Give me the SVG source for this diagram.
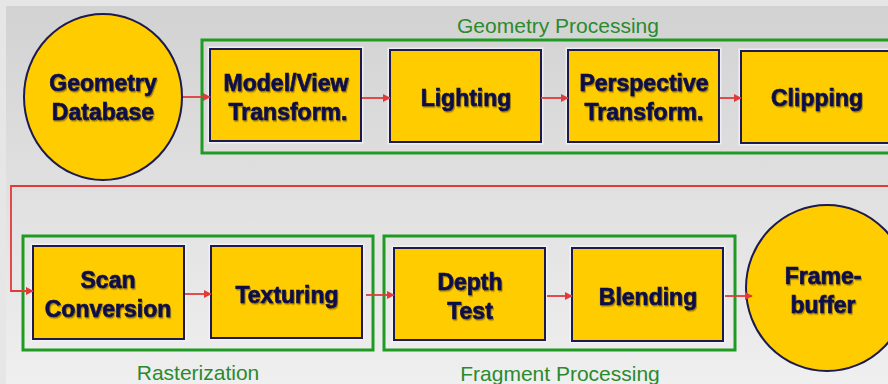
<svg xmlns="http://www.w3.org/2000/svg" width="888" height="384" viewBox="0 0 888 384">
<style>
.box{fill:#ffcc00;stroke:#1c1a4e;stroke-width:2}
.glow{fill:none;stroke:#f2f2fa;stroke-width:5;opacity:0.8}
.grp{fill:none;stroke:#1f9a22;stroke-width:3}
.t{font-family:"Liberation Sans",Arial,sans-serif;font-weight:bold;font-size:23px;fill:#10104a;stroke:#10104a;stroke-width:0.7;text-anchor:middle}
.lbl{font-family:"Liberation Sans",Arial,sans-serif;font-size:21px;fill:#2a8a2e;text-anchor:middle}
.c{fill:none;stroke:#e03a3a;stroke-width:1.8}
</style>
<defs>
<linearGradient id="bg" x1="0" y1="0" x2="0" y2="1">
<stop offset="0" stop-color="#d2d2d2"/>
<stop offset="1" stop-color="#efefef"/>
</linearGradient>
<marker id="ah" viewBox="0 0 10 10" refX="9" refY="5" markerWidth="8" markerHeight="8" orient="auto" markerUnits="userSpaceOnUse">
<path d="M0,0 L10,5 L0,10 z" fill="#e03a3a"/>
</marker>
<filter id="sh" x="-10%" y="-10%" width="120%" height="130%">
<feDropShadow dx="1" dy="1.5" stdDeviation="0.6" flood-color="#000" flood-opacity="0.35"/>
</filter>
</defs>
<rect x="0" y="0" width="888" height="384" fill="#e6e6e6"/>
<rect x="6" y="6" width="882" height="378" fill="url(#bg)"/>

<g id="geometry-processing-group">
<rect class="grp" x="202" y="40" width="700" height="113"/>
<text class="lbl" x="558" y="33">Geometry Processing</text>
</g>
<g id="rasterization-group">
<rect class="grp" x="23" y="236" width="350" height="114"/>
<text class="lbl" x="198" y="380">Rasterization</text>
</g>
<g id="fragment-processing-group">
<rect class="grp" x="384" y="236" width="351" height="114"/>
<text class="lbl" x="560" y="381">Fragment Processing</text>
</g>

<g id="geometry-database">
<ellipse class="box" cx="103" cy="97" rx="79" ry="83"/>
<text class="t" x="103" y="91" filter="url(#sh)">Geometry</text>
<text class="t" x="103" y="120" filter="url(#sh)">Database</text>
</g>
<g id="model-view">
<rect class="glow" x="210" y="49" width="151" height="92"/>
<rect class="box" x="210" y="49" width="151" height="92"/>
<text class="t" x="286" y="91" filter="url(#sh)">Model/View</text>
<text class="t" x="288" y="120" filter="url(#sh)">Transform.</text>
</g>
<g id="lighting">
<rect class="glow" x="390" y="50" width="151" height="92"/>
<rect class="box" x="390" y="50" width="151" height="92"/>
<text class="t" x="466" y="106" filter="url(#sh)">Lighting</text>
</g>
<g id="perspective">
<rect class="glow" x="568" y="50" width="151" height="92"/>
<rect class="box" x="568" y="50" width="151" height="92"/>
<text class="t" x="644" y="91" filter="url(#sh)">Perspective</text>
<text class="t" x="644" y="120" filter="url(#sh)">Transform.</text>
</g>
<g id="clipping">
<rect class="glow" x="741" y="51" width="160" height="92"/>
<rect class="box" x="741" y="51" width="160" height="92"/>
<text class="t" x="817" y="106" filter="url(#sh)">Clipping</text>
</g>
<g id="scan-conversion">
<rect class="glow" x="33" y="246" width="151" height="93"/>
<rect class="box" x="33" y="246" width="151" height="93"/>
<text class="t" x="108" y="288" filter="url(#sh)">Scan</text>
<text class="t" x="108" y="317" filter="url(#sh)">Conversion</text>
</g>
<g id="texturing">
<rect class="glow" x="211" y="246" width="151" height="92"/>
<rect class="box" x="211" y="246" width="151" height="92"/>
<text class="t" x="287" y="303" filter="url(#sh)">Texturing</text>
</g>
<g id="depth-test">
<rect class="glow" x="394" y="248" width="151" height="92"/>
<rect class="box" x="394" y="248" width="151" height="92"/>
<text class="t" x="470" y="290" filter="url(#sh)">Depth</text>
<text class="t" x="470" y="319" filter="url(#sh)">Test</text>
</g>
<g id="blending">
<rect class="glow" x="572" y="248" width="151" height="93"/>
<rect class="box" x="572" y="248" width="151" height="93"/>
<text class="t" x="648" y="305" filter="url(#sh)">Blending</text>
</g>
<g id="frame-buffer">
<ellipse class="box" cx="827" cy="288" rx="81" ry="83"/>
<text class="t" x="823" y="284" filter="url(#sh)">Frame-</text>
<text class="t" x="823" y="313" filter="url(#sh)">buffer</text>
</g>

<g id="connectors">
<line class="c" x1="183" y1="97" x2="210" y2="97" marker-end="url(#ah)"/>
<line class="c" x1="362" y1="98" x2="390" y2="98" marker-end="url(#ah)"/>
<line class="c" x1="541" y1="98" x2="568" y2="98" marker-end="url(#ah)"/>
<line class="c" x1="720" y1="98" x2="741" y2="98" marker-end="url(#ah)"/>
<polyline class="c" points="888,186 11,186 11,291 33,291" marker-end="url(#ah)"/>
<line class="c" x1="185" y1="294" x2="211" y2="294" marker-end="url(#ah)"/>
<line class="c" x1="366" y1="295" x2="394" y2="295" marker-end="url(#ah)"/>
<line class="c" x1="547" y1="296" x2="572" y2="296" marker-end="url(#ah)"/>
<line class="c" x1="725" y1="296" x2="752" y2="296" marker-end="url(#ah)"/>
</g>
</svg>
